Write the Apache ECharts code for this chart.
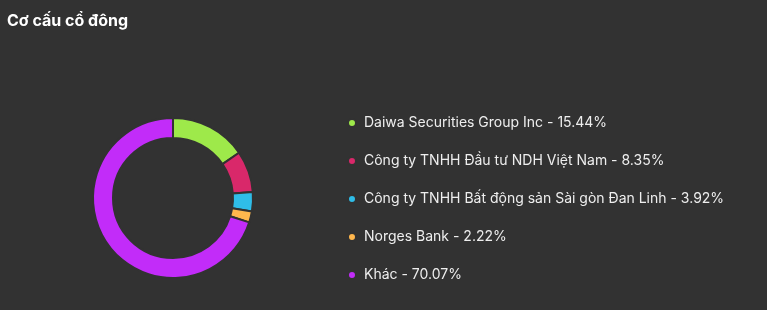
<!DOCTYPE html>
<html><head><meta charset="utf-8">
<script src="https://cdn.jsdelivr.net/npm/echarts@6/dist/echarts.min.js"></script>
<style>html,body{margin:0;padding:0;background:#323232;}#c{width:767px;height:310px;}</style>
</head><body><div id="c"></div>
<script>
const names = ['Daiwa Securities Group Inc', 'Công ty TNHH Đầu tư NDH Việt Nam', 'Công ty TNHH Bất động sản Sài gòn Đan Linh', 'Norges Bank', 'Khác'];
const values = [15.44, 8.35, 3.92, 2.22, 70.07];
const colors = ['#9ee94a', '#d9286a', '#2fbde8', '#ffb74d', '#c22cf9'];
const title = 'Cơ cấu cổ đông';

const chart = echarts.init(document.getElementById('c'));
chart.setOption({
  backgroundColor: '#323232',
  animation: false,
  color: colors,
  title: { text: title, left: 2, top: 8, textStyle: { color: '#ffffff', fontSize: 16, fontWeight: 'bold', fontFamily: 'Inter' } },
  legend: {
    orient: 'vertical', left: 342, top: 111, itemWidth: 8, itemHeight: 8, itemGap: 24, icon: 'circle',
    textStyle: { color: '#eeeeee', fontSize: 14, fontFamily: 'Inter', padding: [0,0,0,3] },
    formatter: function (n) { const i = names.indexOf(n); return n + ' - ' + values[i].toFixed(2) + '%'; }
  },
  series: [{
    type: 'pie', center: [173, 198], radius: [60, 80], startAngle: 90, clockwise: true,
    label: { show: false }, labelLine: { show: false },
    itemStyle: { borderColor: '#323232', borderWidth: 2 },
    data: names.map((n, i) => ({ name: n, value: values[i] }))
  }]
});
</script></body></html>
